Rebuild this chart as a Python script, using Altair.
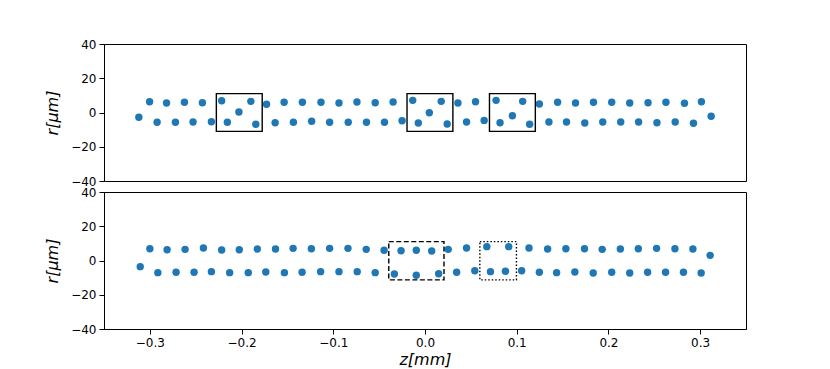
import altair as alt
import pandas as pd

# ---------------- data ----------------
# top panel
top_z_upper = [-0.3003, -0.2818, -0.2623, -0.2427, -0.2217, -0.1899, -0.1728, -0.1536,
               -0.1337, -0.1134, -0.0938, -0.0742, -0.0543, -0.0348, -0.0134, 0.0177,
               0.0359, 0.0551, 0.0775, 0.1065, 0.1247, 0.1446, 0.1641, 0.1837, 0.2036,
               0.2232, 0.2432, 0.2627, 0.2829, 0.3014]
top_r_upper = [6.3, 5.5, 6.0, 5.7, 6.9, 6.5, 4.8, 6.0, 6.0, 6.0, 5.5, 6.1, 5.7, 6.1, 7.1,
               6.5, 5.5, 6.3, 7.1, 6.5, 5.0, 6.0, 5.5, 6.0, 6.0, 5.5, 5.7, 6.0, 5.4, 6.3]
top_z_lower = [-0.3120, -0.2921, -0.2721, -0.2529, -0.2329, -0.2155, -0.2029, -0.1845,
               -0.1634, -0.1435, -0.1236, -0.1040, -0.0837, -0.0638, -0.0442, -0.0250,
               -0.0073, 0.0047, 0.0242, 0.0453, 0.0645, 0.0818, 0.0953, 0.1141, 0.1351,
               0.1543, 0.1742, 0.1938, 0.2134, 0.2329, 0.2529, 0.2728, 0.2927, 0.3120]
top_r_lower = [-2.8, -5.7, -5.7, -5.5, -5.4, -5.7, 0.3, -6.9, -6.0, -5.7, -5.1, -5.7, -5.7,
               -5.7, -5.7, -4.8, -6.1, -0.1, -6.7, -5.5, -4.6, -6.0, -1.9, -6.9, -5.5,
               -5.5, -6.1, -5.5, -5.5, -5.5, -6.0, -5.5, -6.3, -2.2]

# bottom panel
bot_z_upper = [-0.3000, -0.2812, -0.2616, -0.2416, -0.2217, -0.2025, -0.1829, -0.1630,
               -0.1438, -0.1239, -0.1040, -0.0840, -0.0641, -0.0446, -0.0261, -0.0095,
               0.0073, 0.0253, 0.0453, 0.0674, 0.0913, 0.1134, 0.1337, 0.1536, 0.1739,
               0.1932, 0.2130, 0.2326, 0.2525, 0.2725, 0.2921, 0.3109]
bot_r_upper = [6.9, 6.3, 6.5, 7.3, 6.1, 6.3, 6.7, 6.7, 7.1, 6.9, 7.1, 7.1, 6.5, 6.0, 5.7,
               6.0, 5.5, 6.5, 7.3, 8.1, 8.1, 7.3, 6.7, 6.9, 6.9, 6.5, 6.7, 6.9, 7.1, 6.9,
               6.7, 3.0]
bot_z_lower = [-0.3105, -0.2913, -0.2714, -0.2518, -0.2329, -0.2130, -0.1927, -0.1736,
               -0.1533, -0.1340, -0.1138, -0.0938, -0.0739, -0.0543, -0.0334, -0.0095,
               0.0149, 0.0345, 0.0543, 0.0714, 0.0877, 0.1054, 0.1247, 0.1435, 0.1634,
               0.1834, 0.2036, 0.2232, 0.2427, 0.2623, 0.2818, 0.3011]
bot_r_lower = [-3.6, -7.1, -6.9, -6.9, -6.5, -7.1, -7.1, -6.7, -7.1, -6.9, -6.5, -6.5,
               -6.5, -7.1, -7.9, -8.6, -7.7, -6.9, -6.0, -6.5, -6.3, -6.0, -6.9, -7.1,
               -6.7, -7.3, -6.9, -7.3, -6.9, -6.9, -6.9, -7.3]

# boxes
top_box_z0 = [-0.2275, -0.0196, 0.0703]
top_box_z1 = [-0.1775, 0.0304, 0.1203]
top_box_r0 = [-11.0, -11.0, -11.0]
top_box_r1 = [11.0, 11.0, 11.0]

dash_box_z0 = [-0.0395]
dash_box_z1 = [0.0207]
dash_box_r0 = [-11.3]
dash_box_r1 = [11.0]

dot_box_z0 = [0.0598]
dot_box_z1 = [0.0997]
dot_box_r0 = [-11.3]
dot_box_r1 = [11.0]

x_ticks = [-0.3, -0.2, -0.1, 0.0, 0.1, 0.2, 0.3]
y_ticks = [-40, -20, 0, 20, 40]

# ---------------- frames ----------------
top_pts = pd.DataFrame({"z": top_z_upper + top_z_lower, "r": top_r_upper + top_r_lower})
bot_pts = pd.DataFrame({"z": bot_z_upper + bot_z_lower, "r": bot_r_upper + bot_r_lower})
top_boxes = pd.DataFrame({"z0": top_box_z0, "z1": top_box_z1, "r0": top_box_r0, "r1": top_box_r1})
dash_boxes = pd.DataFrame({"z0": dash_box_z0, "z1": dash_box_z1, "r0": dash_box_r0, "r1": dash_box_r1})
dot_boxes = pd.DataFrame({"z0": dot_box_z0, "z1": dot_box_z1, "r0": dot_box_r0, "r1": dot_box_r1})

W, H = 642, 137
BLUE = "#1f77b4"
xscale = alt.Scale(domain=[-0.35, 0.35], nice=False, zero=False)
yscale = alt.Scale(domain=[-40, 40], nice=False, zero=False)

yaxis = alt.Axis(values=y_ticks, title="r[μm]", grid=False, tickSize=5, labelPadding=3,
                 titlePadding=10, format="d", labelOverlap=False)
bot_xaxis = alt.Axis(values=x_ticks, format=".1f", title="z[mm]", grid=False, tickSize=5,
                     labelPadding=3, titlePadding=3, labelOverlap=False)


def layer_panel(pts, box_specs, xaxis):
    scatter = alt.Chart(pts).mark_circle(size=55, color=BLUE, opacity=1).encode(
        x=alt.X("z:Q", scale=xscale, axis=xaxis),
        y=alt.Y("r:Q", scale=yscale, axis=yaxis),
    )
    layers = [scatter]
    for df, dash in box_specs:
        kw = dict(filled=False, stroke="black", strokeWidth=1.4)
        if dash:
            kw["strokeDash"] = dash
        layers.append(
            alt.Chart(df).mark_rect(**kw).encode(
                x=alt.X("z0:Q", scale=xscale, axis=xaxis),
                x2="z1:Q",
                y=alt.Y("r0:Q", scale=yscale, axis=yaxis),
                y2="r1:Q",
            )
        )
    return alt.layer(*layers).properties(width=W, height=H)


top = layer_panel(top_pts, [(top_boxes, None)], None)
bot = layer_panel(bot_pts, [(dash_boxes, [5, 2.5]), (dot_boxes, [1.5, 2])], bot_xaxis)

chart = alt.vconcat(top, bot, spacing=-3).properties(
    padding={"left": 36, "top": 29, "right": 8, "bottom": 0},
    background="white",
).configure_view(stroke="black", strokeWidth=1).configure_axis(
    labelFont="DejaVu Sans", labelFontSize=12, labelColor="black",
    titleFont="DejaVu Sans", titleFontSize=16, titleFontWeight="normal",
    titleFontStyle="italic", titleColor="black",
    domainColor="black", tickColor="black", domainWidth=1, tickWidth=1,
)

chart.save("out.html", embed_options={"renderer": "svg", "actions": False})
